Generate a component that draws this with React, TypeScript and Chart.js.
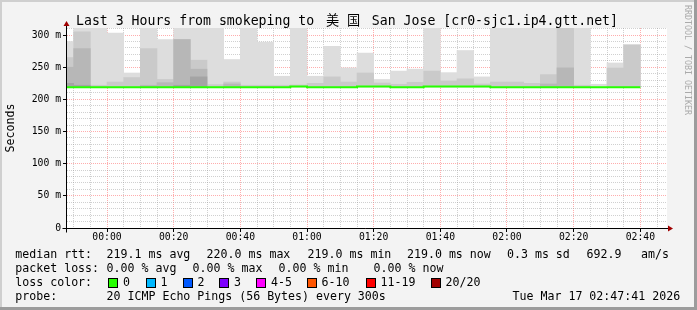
import React, { useEffect, useRef } from 'react';
import { Chart, registerables } from 'chart.js';

Chart.register(...registerables);

// 5-minute bins (start time of each bin)
const binStarts = [
  '23:45', '23:50', '23:55', '00:00', '00:05', '00:10', '00:15', '00:20', '00:25',
  '00:30', '00:35', '00:40', '00:45', '00:50', '00:55', '01:00', '01:05', '01:10',
  '01:15', '01:20', '01:25', '01:30', '01:35', '01:40', '01:45', '01:50', '01:55',
  '02:00', '02:05', '02:10', '02:15', '02:20', '02:25', '02:30', '02:35',
];
const binEnd = '02:40';
const rangeStart = '23:48';
const rangeEnd = '02:48';

// median rtt (ms)
const medianRtt = [
  219, 219, 219, 219, 219, 219, 219, 219, 219,
  219, 219, 219, 219, 219, 220, 219, 219, 219,
  220, 220, 219, 219, 220, 220, 220, 220, 219,
  219, 219, 219, 219, 219, 219, 219, 219,
];
// lowest ping of each bin (ms)
const pingMin = [
  218.6, 218.6, 218.6, 218.6, 218.6, 218.6, 218.6, 218.6, 218.6,
  218.6, 218.6, 218.6, 218.6, 218.6, 219.4, 218.6, 218.6, 218.6,
  219.4, 219.4, 218.6, 218.6, 219.4, 219.4, 219.4, 219.4, 218.6,
  218.6, 218.6, 218.6, 218.6, 218.6, 218.6, 218.6, 218.6,
];
// smoke: upper ping of each pair, from outermost (lightest) to innermost (darkest)
const smokeOuter = [
  290, 312, 312, 303, 241, 312, 293, 312, 312,
  312, 262, 312, 289, 236, 312, 236, 282.5, 249,
  272, 231, 244, 247, 312, 241.6, 276, 235, 312,
  312, 312, 312, 312, 312, 223.5, 256.6, 285.6,
];
const smokeMid = [
  265, 305, 222, 227, 234, 279, 231, 293, 261,
  223, 227, 222, 222, 222, 222.5, 225, 235, 227,
  241, 225.5, 223.5, 226.6, 244, 228.6, 232, 224, 227,
  227, 225, 238.5, 312, 222, null, 248.8, 284,
];
const smokeInner = [
  250, 279, null, null, null, 222, 226, 293, 247,
  null, 224, null, null, null, null, null, null, null,
  null, null, null, null, null, null, null, null, null,
  null, null, 224, 249, null, null, null, null,
];
const smokeCore = [
  225, 222, null, null, null, null, null, 222, 235,
  null, null, null, null, null, null, null, null, null,
  null, null, null, null, null, null, null, null, null,
  null, null, null, null, null, null, null, null,
];

const xTickLabels = ['00:00', '00:20', '00:40', '01:00', '01:20', '01:40', '02:00', '02:20', '02:40'];
const yTickLabels = ['0', '50 m', '100 m', '150 m', '200 m', '250 m', '300 m'];
const yMax = 311;

const lossColors = ['#26ff00', '#00b8ff', '#0059ff', '#7e00ff', '#ff00ff', '#ff5500', '#ff0000', '#a10000'];
const lossLabels = ['0', '1', '2', '3', '4-5', '6-10', '11-19', '20/20'];

const toMin = (s: string) => {
  const [h, m] = s.split(':').map(Number);
  let v = h * 60 + m;
  if (h >= 12) v -= 1440;
  return v;
};

const MONO = '"DejaVu Sans Mono", monospace';

const rrdPlugin = {
  id: 'rrdFrame',
  beforeDraw(chart: any) {
    const { ctx, chartArea: a } = chart;
    ctx.save();
    ctx.fillStyle = '#ffffff';
    ctx.fillRect(a.left, a.top, a.right - a.left, a.bottom - a.top);
    ctx.restore();
  },
  afterDraw(chart: any) {
    const { ctx, chartArea: a } = chart;
    const y0 = Math.round(a.bottom) + 0.5;
    const x0 = Math.round(a.left) - 0.5;
    ctx.save();
    ctx.strokeStyle = '#000';
    ctx.lineWidth = 1;
    ctx.beginPath();
    ctx.moveTo(x0 - 4, y0);
    ctx.lineTo(a.right + 1, y0);
    ctx.moveTo(x0, y0 + 4);
    ctx.lineTo(x0, a.top - 2);
    ctx.stroke();
    ctx.fillStyle = '#a00000';
    ctx.beginPath();
    ctx.moveTo(a.right + 1, y0 - 3);
    ctx.lineTo(a.right + 6, y0);
    ctx.lineTo(a.right + 1, y0 + 3);
    ctx.closePath();
    ctx.fill();
    ctx.beginPath();
    ctx.moveTo(x0 - 3, a.top - 2);
    ctx.lineTo(x0, a.top - 7);
    ctx.lineTo(x0 + 3, a.top - 2);
    ctx.closePath();
    ctx.fill();
    ctx.restore();
  },
};

export default function App() {
  const ref = useRef<HTMLCanvasElement>(null);

  useEffect(() => {
    const canvas = ref.current;
    if (!canvas) return;
    const centers = binStarts.map((s) => toMin(s) + 2.5);
    const mk = (tops: (number | null)[], label: string, color: string, order: number) => ({
      type: 'bar' as const,
      label,
      order,
      data: tops
        .map((t, i) => (t == null ? null : { x: centers[i], y: [pingMin[i], t] }))
        .filter((d) => d !== null),
      backgroundColor: color,
      borderWidth: 0,
      grouped: false,
      barPercentage: 1,
      categoryPercentage: 1,
      clip: 0,
    });
    const medianPts = binStarts.map((s, i) => ({ x: toMin(s), y: medianRtt[i] }));
    medianPts.push({ x: toMin(binEnd), y: medianRtt[medianRtt.length - 1] });

    const xMajor = xTickLabels.map(toMin);
    const yMajor = yTickLabels.map((l) => parseFloat(l));

    const chart = new Chart(canvas, {
      type: 'bar',
      data: {
        datasets: [
          {
            type: 'line',
            label: 'median',
            order: 0,
            data: medianPts,
            borderColor: '#26ff00',
            borderWidth: 2,
            pointRadius: 0,
            stepped: true,
            fill: false,
            clip: 0,
          } as any,
          mk(smokeCore, 'core', '#a4a4a4', 1),
          mk(smokeInner, 'inner', '#b7b7b7', 2),
          mk(smokeMid, 'mid', '#cacaca', 3),
          mk(smokeOuter, 'outer', '#dddddd', 4),
        ],
      },
      options: {
        animation: false,
        responsive: false,
        events: [],
        layout: { padding: { top: 28, right: 30, bottom: 0, left: 0 } },
        plugins: { legend: { display: false }, tooltip: { enabled: false }, title: { display: false } },
        scales: {
          x: {
            type: 'linear',
            min: toMin(rangeStart),
            max: toMin(rangeEnd),
            offset: false,
            z: 1,
            afterBuildTicks: (scale: any) => {
              const t = [];
              for (let v = Math.ceil(scale.min / 5) * 5; v <= scale.max; v += 5) t.push({ value: v });
              scale.ticks = t;
            },
            afterFit: (scale: any) => {
              scale.height = 82;
            },
            grid: {
              offset: false,
              drawTicks: true,
              tickLength: 4,
              color: (c: any) => (xMajor.includes(c.tick?.value) ? 'rgba(255,0,0,0.32)' : 'rgba(150,150,150,0.45)'),
              tickColor: (c: any) => (xMajor.includes(c.tick?.value) ? '#000' : 'rgba(0,0,0,0)'),
            },
            border: { display: false, dash: [1, 1] },
            ticks: {
              autoSkip: false,
              maxRotation: 0,
              padding: 0,
              color: '#000',
              font: { family: MONO, size: 9.75 },
              callback: (v: any) => {
                const i = xMajor.indexOf(Number(v));
                return i >= 0 ? xTickLabels[i] : '';
              },
            },
          },
          y: {
            type: 'linear',
            min: 0,
            max: yMax,
            z: 1,
            afterBuildTicks: (scale: any) => {
              const t = [];
              for (let v = 0; v <= scale.max; v += 10) t.push({ value: v });
              scale.ticks = t;
            },
            afterFit: (scale: any) => {
              scale.width = 67;
            },
            grid: {
              drawTicks: true,
              tickLength: 4,
              color: (c: any) => (yMajor.includes(c.tick?.value) ? 'rgba(255,0,0,0.32)' : 'rgba(150,150,150,0.45)'),
              tickColor: (c: any) => (yMajor.includes(c.tick?.value) ? '#000' : 'rgba(0,0,0,0)'),
            },
            border: { display: false, dash: [1, 1] },
            ticks: {
              autoSkip: false,
              padding: 2,
              color: '#000',
              font: { family: MONO, size: 9.75 },
              callback: (v: any) => {
                const i = yMajor.indexOf(Number(v));
                return i >= 0 ? yTickLabels[i] : '';
              },
            },
          },
        },
      } as any,
      plugins: [rrdPlugin],
    });
    return () => chart.destroy();
  }, []);

  const txt = (s: string, left: number, top: number, extra: any = {}) => (
    <div
      key={s + left + top}
      style={{
        position: 'absolute',
        left,
        top,
        fontFamily: MONO,
        fontSize: 11.6,
        lineHeight: 1,
        whiteSpace: 'pre',
        color: '#000',
        ...extra,
      }}
    >
      {s}
    </div>
  );

  const row = [248.5, 262.6, 276.8, 290.9];
  const boxX = [108, 145.5, 182.5, 219, 256, 306.5, 365.5, 430.5];

  return (
    <div
      style={{
        position: 'absolute',
        left: 0,
        top: 0,
        width: 697,
        height: 310,
        background: '#f3f3f3',
        overflow: 'hidden',
      }}
    >
      <canvas ref={ref} width={697} height={310} style={{ position: 'absolute', left: 0, top: 0, width: 697, height: 310 }} />
      {/* frame */}
      <div style={{ position: 'absolute', left: 0, top: 0, width: 697, height: 2, background: '#cfcfcf' }} />
      <div style={{ position: 'absolute', left: 0, top: 0, width: 2, height: 310, background: '#cfcfcf' }} />
      <div style={{ position: 'absolute', left: 0, top: 307, width: 697, height: 3, background: '#9c9c9c' }} />
      <div style={{ position: 'absolute', left: 694, top: 0, width: 3, height: 310, background: '#9c9c9c' }} />
      {/* title */}
      <div
        style={{
          position: 'absolute',
          left: 76,
          top: 12.6,
          fontFamily: MONO,
          fontSize: 13.2,
          lineHeight: 1,
          whiteSpace: 'pre',
          color: '#000',
        }}
      >
        {'Last 3 Hours from smokeping to '}
        <span style={{ display: 'inline-block', width: 20.9, textAlign: 'center', fontFamily: '"Noto Sans CJK SC"' }}>美</span>
        <span style={{ display: 'inline-block', width: 20.9, textAlign: 'center', fontFamily: '"Noto Sans CJK SC"' }}>国</span>
        {' San Jose [cr0-sjc1.ip4.gtt.net]'}
      </div>
      {/* y axis title */}
      <div
        style={{
          position: 'absolute',
          left: 11,
          top: 127.5,
          transform: 'translate(-50%, -50%) rotate(-90deg)',
          fontFamily: MONO,
          fontSize: 11.6,
          lineHeight: 1,
          whiteSpace: 'pre',
          color: '#000',
        }}
      >
        Seconds
      </div>
      {/* watermark */}
      <div
        style={{
          position: 'absolute',
          left: 688,
          top: 60,
          transform: 'translate(-50%, -50%) rotate(90deg)',
          fontFamily: MONO,
          fontSize: 8.3,
          lineHeight: 1,
          whiteSpace: 'pre',
          color: '#aaaaaa',
        }}
      >
        RRDTOOL / TOBI OETIKER
      </div>
      {/* legend */}
      {txt('median rtt:', 15.3, row[0])}
      {txt('219.1 ms avg', 106.6, row[0])}
      {txt('220.0 ms max', 206.6, row[0])}
      {txt('219.0 ms min', 307.6, row[0])}
      {txt('219.0 ms now', 407, row[0])}
      {txt('0.3 ms sd', 507, row[0])}
      {txt('692.9', 586.5, row[0])}
      {txt('am/s', 641, row[0])}

      {txt('packet loss:', 15.3, row[1])}
      {txt('0.00 % avg', 106.6, row[1])}
      {txt('0.00 % max', 192.6, row[1])}
      {txt('0.00 % min', 278.6, row[1])}
      {txt('0.00 % now', 373.6, row[1])}

      {txt('loss color:', 15.3, row[2])}
      {lossLabels.map((l, i) => (
        <React.Fragment key={l}>
          <div
            style={{
              position: 'absolute',
              left: boxX[i],
              top: 278,
              width: 10,
              height: 10,
              boxSizing: 'border-box',
              border: '1px solid #000',
              background: lossColors[i],
            }}
          />
          {txt(l, boxX[i] + 15, row[2])}
        </React.Fragment>
      ))}

      {txt('probe:', 15.3, row[3])}
      {txt('20 ICMP Echo Pings (56 Bytes) every 300s', 106.6, row[3])}
      {txt('Tue Mar 17 02:47:41 2026', 512.6, row[3])}
    </div>
  );
}
